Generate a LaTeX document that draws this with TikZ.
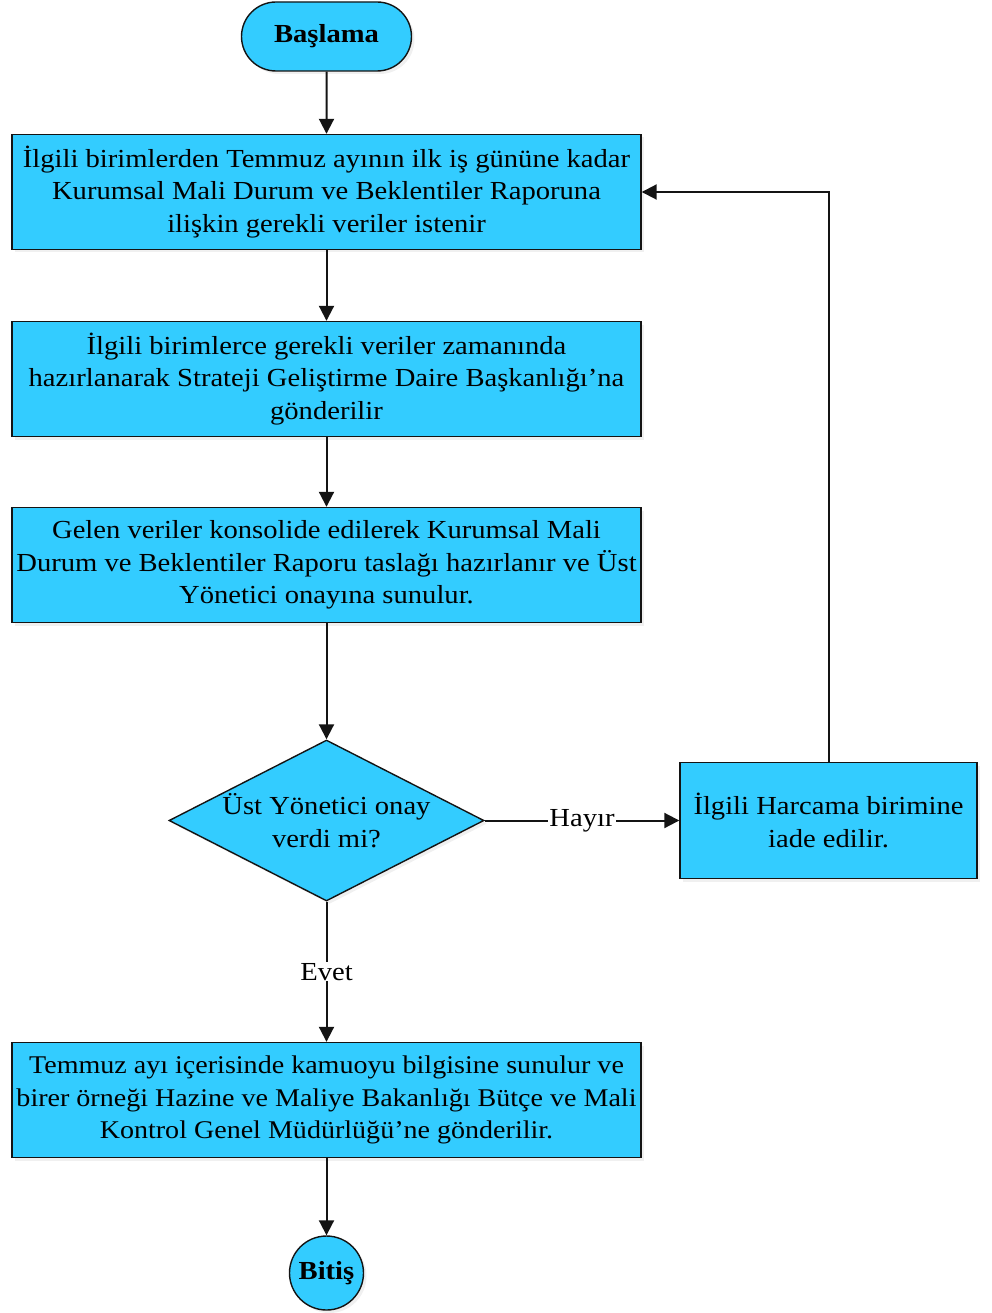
\documentclass[tikz,border=0pt]{standalone}
\usepackage{fontspec}
\setmainfont{Liberation Serif}[FakeStretch=1.1]
\usetikzlibrary{shapes.geometric,shapes.misc,arrows.meta,shadows}
\definecolor{boxblue}{RGB}{51,204,255}
\definecolor{edge}{RGB}{20,20,20}
\tikzset{
  base/.style={draw=edge, line width=1.4pt, fill=boxblue, align=center, inner sep=2pt,
    font=\fontsize{26}{32.5}\selectfont,
    drop shadow={opacity=0.12, shadow xshift=3pt, shadow yshift=-3pt}},
  procbox/.style={base, rectangle, minimum width=629pt, minimum height=115pt},
  sidebox/.style={base, rectangle, minimum width=297pt, minimum height=116pt},
  decide/.style={base, diamond, aspect=1.96, minimum width=315pt, minimum height=161pt, inner sep=0pt},
  term/.style={base, rounded rectangle, minimum width=174pt, minimum height=69pt, font=\fontsize{26}{32.5}\selectfont\bfseries},
  endc/.style={base, circle, minimum size=74pt, inner sep=0pt, font=\fontsize{26}{32.5}\selectfont\bfseries},
  arr/.style={draw=edge, line width=2pt, -{Triangle[length=15pt,width=15pt]}},
  lbl/.style={fill=white, inner sep=1pt, font=\fontsize{26}{32.5}\selectfont}
}
\begin{document}
\begin{tikzpicture}[x=1pt,y=-1pt]
\useasboundingbox (0,0) rectangle (991,1313);
\node[term] (start) at (326.5,36.5) {Başlama};
\node[procbox] (b1) at (326.5,192) {İlgili birimlerden Temmuz ayının ilk iş gününe kadar\\Kurumsal Mali Durum ve Beklentiler Raporuna\\ilişkin gerekli veriler istenir};
\node[procbox] (b2) at (326.5,379) {İlgili birimlerce gerekli veriler zamanında\\hazırlanarak Strateji Geliştirme Daire Başkanlığı’na\\gönderilir};
\node[procbox] (b3) at (326.5,565) {Gelen veriler konsolide edilerek Kurumsal Mali\\Durum ve Beklentiler Raporu taslağı hazırlanır ve Üst\\Yönetici onayına sunulur.};
\node[decide] (d) at (326.5,820.5) {Üst Yönetici onay\\verdi mi?};
\node[sidebox] (r) at (828.5,820.5) {İlgili Harcama birimine\\iade edilir.};
\node[procbox, font=\fontsize{25.5}{32.5}\selectfont] (b4) at (326.5,1100) {Temmuz ayı içerisinde kamuoyu bilgisine sunulur ve\\birer örneği Hazine ve Maliye Bakanlığı Bütçe ve Mali\\Kontrol Genel Müdürlüğü’ne gönderilir.};
\node[endc] (end) at (326.5,1273) {Bitiş};
\draw[arr] (start) -- (b1);
\draw[arr] (b1) -- (b2);
\draw[arr] (b2) -- (b3);
\draw[arr] (b3) -- (d);
\draw[arr] (d) -- node[lbl] {Hayır} (r);
\draw[arr] (d) -- node[lbl, pos=0.5] {Evet} (b4);
\draw[arr] (b4) -- (end);
\draw[arr] (r.north) |- (b1.east);
\end{tikzpicture}
\end{document}
